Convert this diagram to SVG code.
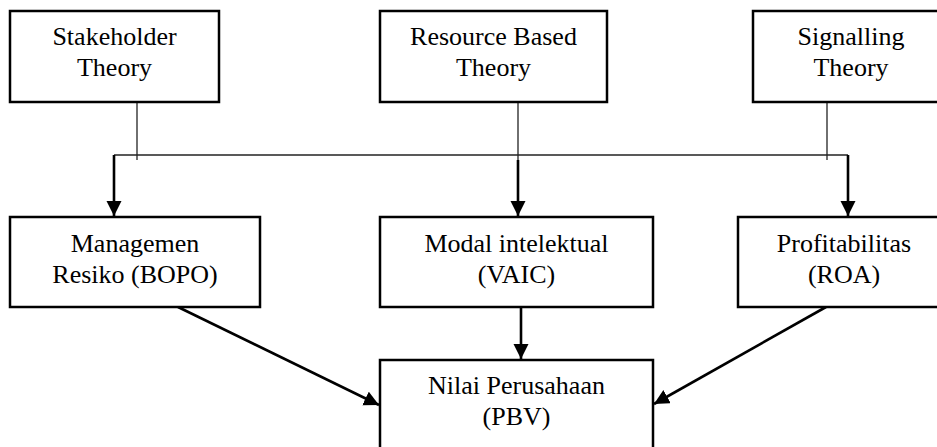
<svg xmlns="http://www.w3.org/2000/svg" width="937" height="447" viewBox="0 0 937 447">
<style>
.box{fill:#fff;stroke:#000;stroke-width:2.5}
.t{font-family:"Liberation Serif","Times New Roman",serif;font-size:26px;fill:#000;text-anchor:middle}
.thin{stroke:#222;stroke-width:1.3;fill:none}
.thick{stroke:#000;stroke-width:2.6;fill:none;marker-end:url(#ah)}
</style>
<defs>
<marker id="ah" markerUnits="userSpaceOnUse" markerWidth="16" markerHeight="16" viewBox="0 0 16 16" refX="15" refY="7.5" orient="auto">
<path d="M0,0 L15,7.5 L0,15 Z" fill="#000"/>
</marker>
</defs>
<rect width="937" height="447" fill="#fff"/>
<g id="connectors">
<line class="thin" x1="137" y1="102" x2="137" y2="160"/>
<line class="thin" x1="518" y1="102" x2="518" y2="160"/>
<line class="thin" x1="827" y1="102" x2="827" y2="160"/>
<line class="thin" x1="114" y1="155" x2="848" y2="155"/>
<line class="thick" x1="114" y1="155" x2="114" y2="216"/>
<line class="thick" x1="518" y1="160" x2="518" y2="216"/>
<line class="thick" x1="848" y1="155" x2="848" y2="216"/>
<line class="thick" x1="178" y1="307" x2="379" y2="405"/>
<line class="thick" x1="521" y1="307" x2="521" y2="359"/>
<line class="thick" x1="826" y1="307" x2="654" y2="404"/>
</g>
<g id="stakeholder">
<rect class="box" x="10" y="11" width="209" height="91"/>
<text class="t" x="114.5" y="45">Stakeholder</text>
<text class="t" x="114.5" y="76">Theory</text>
</g>
<g id="resource">
<rect class="box" x="380" y="11" width="227" height="91"/>
<text class="t" x="493.5" y="45">Resource Based</text>
<text class="t" x="493.5" y="76">Theory</text>
</g>
<g id="signalling">
<rect class="box" x="753" y="11" width="197" height="91"/>
<text class="t" x="851" y="45">Signalling</text>
<text class="t" x="851" y="76">Theory</text>
</g>
<g id="managemen">
<rect class="box" x="10" y="217" width="250" height="90"/>
<text class="t" x="135" y="252">Managemen</text>
<text class="t" x="135" y="283">Resiko (BOPO)</text>
</g>
<g id="modal">
<rect class="box" x="380" y="217" width="273" height="90"/>
<text class="t" x="516.5" y="252">Modal intelektual</text>
<text class="t" x="516.5" y="283">(VAIC)</text>
</g>
<g id="profitabilitas">
<rect class="box" x="738" y="217" width="212" height="90"/>
<text class="t" x="844" y="252">Profitabilitas</text>
<text class="t" x="844" y="283">(ROA)</text>
</g>
<g id="nilai">
<rect class="box" x="380" y="360" width="273" height="100"/>
<text class="t" x="516.5" y="394">Nilai Perusahaan</text>
<text class="t" x="516.5" y="425">(PBV)</text>
</g>
</svg>
